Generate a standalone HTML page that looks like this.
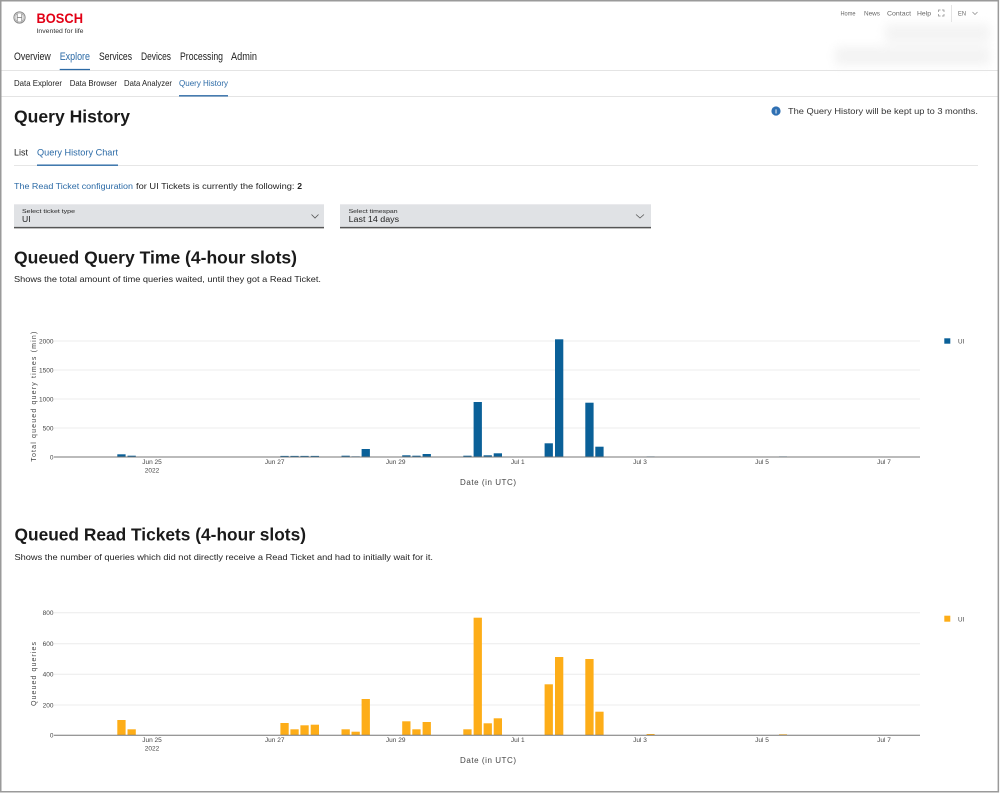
<!DOCTYPE html>
<html><head><meta charset="utf-8"><style>
html,body{margin:0;padding:0;background:#fff;}
svg{display:block;font-family:"Liberation Sans",sans-serif;}
</style></head><body>
<svg width="1000" height="793" viewBox="0 0 1000 793" xmlns="http://www.w3.org/2000/svg">
<defs><filter id="bl" x="-20%" y="-50%" width="140%" height="200%"><feGaussianBlur stdDeviation="5"/></filter></defs>
<rect x="0" y="0" width="1000" height="793" fill="#fff"/>
<!-- blurred area -->
<g filter="url(#bl)" opacity="0.8">
<rect x="885" y="24" width="105" height="19" fill="#f1f1f1"/>
<rect x="835" y="47" width="155" height="18" fill="#f0f0f0"/>
</g>
<!-- logo -->
<circle cx="19.5" cy="17.5" r="5.6" fill="none" stroke="#888" stroke-width="1"/>
<circle cx="19.5" cy="17.5" r="4.4" fill="none" stroke="#aaa" stroke-width="0.6"/>
<line x1="17.2" y1="13.5" x2="17.2" y2="21.5" stroke="#888" stroke-width="0.9"/>
<line x1="21.8" y1="13.5" x2="21.8" y2="21.5" stroke="#888" stroke-width="0.9"/>
<line x1="17.2" y1="17.5" x2="21.8" y2="17.5" stroke="#888" stroke-width="0.9"/>
<text x="36.5" y="23" font-size="13.5" font-weight="bold" fill="#e20015" textLength="46.5" lengthAdjust="spacingAndGlyphs">BOSCH</text>
<text x="36.5" y="33" font-size="6.3" fill="#333" textLength="47" lengthAdjust="spacingAndGlyphs">Invented for life</text>
<!-- top links -->
<g font-size="6.3" fill="#666">
<text x="840.5" y="15.3" textLength="15" lengthAdjust="spacingAndGlyphs">Home</text>
<text x="864" y="15.3" textLength="16" lengthAdjust="spacingAndGlyphs">News</text>
<text x="887" y="15.3" textLength="24" lengthAdjust="spacingAndGlyphs">Contact</text>
<text x="917" y="15.3" textLength="14" lengthAdjust="spacingAndGlyphs">Help</text>
<text x="958" y="15.3" textLength="8" lengthAdjust="spacingAndGlyphs">EN</text>
</g>
<path d="M938.5,12 v-2 h2 M942,10 h2 v2 M944,14 v2 h-2 M940.5,16 h-2 v-2" fill="none" stroke="#888" stroke-width="0.7"/>
<line x1="951.5" y1="5" x2="951.5" y2="22" stroke="#ddd" stroke-width="0.8"/>
<polyline points="972.5,12 975,14.5 977.5,12" fill="none" stroke="#888" stroke-width="0.7"/>
<!-- main nav -->
<g font-size="11" fill="#222">
<text x="14" y="60" textLength="36.7" lengthAdjust="spacingAndGlyphs">Overview</text>
<text x="59.7" y="60" textLength="30.3" lengthAdjust="spacingAndGlyphs" fill="#2b6aa6">Explore</text>
<text x="99" y="60" textLength="33" lengthAdjust="spacingAndGlyphs">Services</text>
<text x="141" y="60" textLength="30" lengthAdjust="spacingAndGlyphs">Devices</text>
<text x="180" y="60" textLength="43" lengthAdjust="spacingAndGlyphs">Processing</text>
<text x="231" y="60" textLength="26" lengthAdjust="spacingAndGlyphs">Admin</text>
</g>
<line x1="1" y1="70.5" x2="998" y2="70.5" stroke="#e4e4e4" stroke-width="1"/>
<line x1="59.7" y1="69.5" x2="90" y2="69.5" stroke="#2b6aa6" stroke-width="1.3"/>
<!-- sub nav -->
<g font-size="8.3" fill="#222">
<text x="14" y="86" textLength="48" lengthAdjust="spacingAndGlyphs">Data Explorer</text>
<text x="69.7" y="86" textLength="47.3" lengthAdjust="spacingAndGlyphs">Data Browser</text>
<text x="124" y="86" textLength="48" lengthAdjust="spacingAndGlyphs">Data Analyzer</text>
<text x="179" y="86" textLength="49" lengthAdjust="spacingAndGlyphs" fill="#2b6aa6">Query History</text>
</g>
<line x1="1" y1="96.5" x2="998" y2="96.5" stroke="#e4e4e4" stroke-width="1"/>
<line x1="179" y1="95.8" x2="228" y2="95.8" stroke="#2b6aa6" stroke-width="1.3"/>
<!-- title -->
<text x="14" y="122.5" font-size="17.5" font-weight="bold" fill="#1a1a1a" textLength="116" lengthAdjust="spacingAndGlyphs">Query History</text>
<circle cx="776" cy="111" r="4.6" fill="#2f70b3"/>
<text x="776" y="113.6" font-size="6.5" font-weight="bold" fill="#fff" text-anchor="middle">i</text>
<text x="788" y="114" font-size="8.7" fill="#333" textLength="190" lengthAdjust="spacingAndGlyphs">The Query History will be kept up to 3 months.</text>
<!-- tabs -->
<text x="14" y="155.5" font-size="8.8" fill="#222" textLength="14" lengthAdjust="spacingAndGlyphs">List</text>
<text x="37" y="155.5" font-size="8.8" fill="#2b6aa6" textLength="81" lengthAdjust="spacingAndGlyphs">Query History Chart</text>
<line x1="14" y1="165.5" x2="978" y2="165.5" stroke="#e6e6e6" stroke-width="1"/>
<line x1="37" y1="165.2" x2="118" y2="165.2" stroke="#2b6aa6" stroke-width="1.3"/>
<!-- read ticket -->
<text x="14" y="189" font-size="8.6" fill="#2b6aa6" textLength="119" lengthAdjust="spacingAndGlyphs">The Read Ticket configuration</text>
<text x="136" y="189" font-size="8.6" fill="#222" textLength="158.5" lengthAdjust="spacingAndGlyphs">for UI Tickets is currently the following:</text>
<text x="297.3" y="189" font-size="8.6" font-weight="bold" fill="#222">2</text>
<!-- dropdowns -->
<rect x="14" y="204.3" width="310" height="23" fill="#e0e2e5"/>
<line x1="14" y1="227.6" x2="324" y2="227.6" stroke="#555" stroke-width="1.5"/>
<text x="22" y="213" font-size="5.6" fill="#222" textLength="53" lengthAdjust="spacingAndGlyphs">Select ticket type</text>
<text x="22" y="222" font-size="8.6" fill="#222">UI</text>
<polyline points="311.5,214.5 315,218 318.5,214.5" fill="none" stroke="#555" stroke-width="0.8"/>
<rect x="340" y="204.3" width="311" height="23" fill="#e0e2e5"/>
<line x1="340" y1="227.6" x2="651" y2="227.6" stroke="#555" stroke-width="1.5"/>
<text x="348.6" y="213" font-size="5.6" fill="#222" textLength="49" lengthAdjust="spacingAndGlyphs">Select timespan</text>
<text x="348.6" y="222" font-size="8.6" fill="#222" textLength="50.5" lengthAdjust="spacingAndGlyphs">Last 14 days</text>
<polyline points="636,214.5 640,218 644,214.5" fill="none" stroke="#555" stroke-width="0.8"/>
<!-- heading 1 -->
<text x="14" y="263.5" font-size="17.5" font-weight="bold" fill="#1a1a1a" textLength="283" lengthAdjust="spacingAndGlyphs">Queued Query Time (4-hour slots)</text>
<text x="14" y="282" font-size="8.4" fill="#222" textLength="307" lengthAdjust="spacingAndGlyphs">Shows the total amount of time queries waited, until they got a Read Ticket.</text>

<!-- CHART 1 -->
<g stroke="#ececec" stroke-width="1">
<line x1="54" y1="341" x2="920" y2="341"/>
<line x1="54" y1="370" x2="920" y2="370"/>
<line x1="54" y1="399" x2="920" y2="399"/>
<line x1="54" y1="428" x2="920" y2="428"/>
</g>
<g font-size="6.5" fill="#444" text-anchor="end">
<text x="53.5" y="343.3">2000</text>
<text x="53.5" y="372.3">1500</text>
<text x="53.5" y="401.3">1000</text>
<text x="53.5" y="430.3">500</text>
<text x="53.5" y="459.3">0</text>
</g>
<text transform="translate(35.8,396.7) rotate(-90)" font-size="7" fill="#444" text-anchor="middle" textLength="130" lengthAdjust="spacing">Total queued query times (min)</text>
<g fill="#0a6098">
<rect x="117.3" y="454.3" width="8.3" height="2.7"/>
<rect x="127.5" y="455.7" width="8.3" height="1.3"/>
<rect x="280.4" y="455.9" width="8.3" height="1.1"/>
<rect x="290.4" y="455.9" width="8.3" height="1.1"/>
<rect x="300.4" y="455.9" width="8.3" height="1.1"/>
<rect x="310.7" y="455.9" width="8.3" height="1.1"/>
<rect x="341.5" y="455.7" width="8.3" height="1.3"/>
<rect x="351.5" y="456.1" width="8.3" height="0.9" fill="#8fb3cc"/>
<rect x="361.6" y="449" width="8.3" height="8"/>
<rect x="402.2" y="455.3" width="8.3" height="1.7"/>
<rect x="412.3" y="455.7" width="8.3" height="1.3"/>
<rect x="422.6" y="454" width="8.3" height="3"/>
<rect x="463.3" y="455.7" width="8.3" height="1.3"/>
<rect x="473.6" y="402" width="8.3" height="55"/>
<rect x="483.6" y="455.3" width="8.3" height="1.7"/>
<rect x="493.7" y="453.3" width="8.3" height="3.7"/>
<rect x="544.6" y="443.3" width="8.3" height="13.7"/>
<rect x="555" y="339.3" width="8.3" height="117.7"/>
<rect x="585.3" y="402.7" width="8.3" height="54.3"/>
<rect x="595.3" y="446.7" width="8.3" height="10.3"/>
<rect x="646.6" y="456.3" width="8" height="0.7" fill="#8fb3cc"/>
<rect x="779" y="456.3" width="8" height="0.7" fill="#8fb3cc"/>
</g>
<line x1="54" y1="457" x2="920" y2="457" stroke="#777" stroke-width="1"/>
<g font-size="6.5" fill="#444" text-anchor="middle">
<text x="152" y="463.8">Jun 25</text>
<text x="152" y="472.5">2022</text>
<text x="274.7" y="463.8">Jun 27</text>
<text x="395.7" y="463.8">Jun 29</text>
<text x="517.7" y="463.8">Jul 1</text>
<text x="640" y="463.8">Jul 3</text>
<text x="762" y="463.8">Jul 5</text>
<text x="884" y="463.8">Jul 7</text>
</g>
<text x="488" y="485" font-size="8" fill="#444" text-anchor="middle" textLength="56" lengthAdjust="spacing">Date (in UTC)</text>
<rect x="944.3" y="338.3" width="6" height="5.4" fill="#0a6098"/>
<text x="958" y="343.5" font-size="6.3" fill="#444">UI</text>

<!-- heading 2 -->
<text x="14.5" y="540.7" font-size="17.5" font-weight="bold" fill="#1a1a1a" textLength="291.5" lengthAdjust="spacingAndGlyphs">Queued Read Tickets (4-hour slots)</text>
<text x="14.5" y="560" font-size="8.4" fill="#222" textLength="418.5" lengthAdjust="spacingAndGlyphs">Shows the number of queries which did not directly receive a Read Ticket and had to initially wait for it.</text>

<!-- CHART 2 -->
<g stroke="#ececec" stroke-width="1">
<line x1="54" y1="612.7" x2="920" y2="612.7"/>
<line x1="54" y1="643.7" x2="920" y2="643.7"/>
<line x1="54" y1="674.3" x2="920" y2="674.3"/>
<line x1="54" y1="705" x2="920" y2="705"/>
</g>
<g font-size="6.5" fill="#444" text-anchor="end">
<text x="53.5" y="615">800</text>
<text x="53.5" y="646">600</text>
<text x="53.5" y="676.6">400</text>
<text x="53.5" y="707.3">200</text>
<text x="53.5" y="737.6">0</text>
</g>
<text transform="translate(35.8,674) rotate(-90)" font-size="7" fill="#444" text-anchor="middle" textLength="64" lengthAdjust="spacing">Queued queries</text>
<g fill="#fdad18">
<rect x="117.3" y="720" width="8.3" height="15.3"/>
<rect x="127.5" y="729.3" width="8.3" height="6"/>
<rect x="280.4" y="723" width="8.3" height="12.3"/>
<rect x="290.4" y="729.3" width="8.3" height="6"/>
<rect x="300.4" y="725.3" width="8.3" height="10"/>
<rect x="310.7" y="724.7" width="8.3" height="10.6"/>
<rect x="341.5" y="729.3" width="8.3" height="6"/>
<rect x="351.5" y="731.7" width="8.3" height="3.6"/>
<rect x="361.6" y="699" width="8.3" height="36.3"/>
<rect x="402.2" y="721.3" width="8.3" height="14"/>
<rect x="412.3" y="729.3" width="8.3" height="6"/>
<rect x="422.6" y="722" width="8.3" height="13.3"/>
<rect x="463.3" y="729.3" width="8.3" height="6"/>
<rect x="473.6" y="617.7" width="8.3" height="117.6"/>
<rect x="483.6" y="723.3" width="8.3" height="12"/>
<rect x="493.7" y="718.3" width="8.3" height="17"/>
<rect x="544.6" y="684.3" width="8.3" height="51"/>
<rect x="555" y="657" width="8.3" height="78.3"/>
<rect x="585.3" y="659" width="8.3" height="76.3"/>
<rect x="595.3" y="711.7" width="8.3" height="23.6"/>
<rect x="646.6" y="734" width="8" height="1.3"/>
<rect x="779" y="734.3" width="8" height="1"/>
</g>
<line x1="54" y1="735.3" x2="920" y2="735.3" stroke="#777" stroke-width="1"/>
<g font-size="6.5" fill="#444" text-anchor="middle">
<text x="152" y="742">Jun 25</text>
<text x="152" y="750.5">2022</text>
<text x="274.7" y="742">Jun 27</text>
<text x="395.7" y="742">Jun 29</text>
<text x="517.7" y="742">Jul 1</text>
<text x="640" y="742">Jul 3</text>
<text x="762" y="742">Jul 5</text>
<text x="884" y="742">Jul 7</text>
</g>
<text x="488" y="763" font-size="8" fill="#444" text-anchor="middle" textLength="56" lengthAdjust="spacing">Date (in UTC)</text>
<rect x="944.3" y="615.7" width="6" height="6" fill="#fdad18"/>
<text x="958" y="621.3" font-size="6.3" fill="#444">UI</text>

<!-- page border -->
<rect x="0.75" y="0.75" width="997.6" height="791" fill="none" stroke="#9a9a9a" stroke-width="1.5"/>
</svg>
</body></html>
